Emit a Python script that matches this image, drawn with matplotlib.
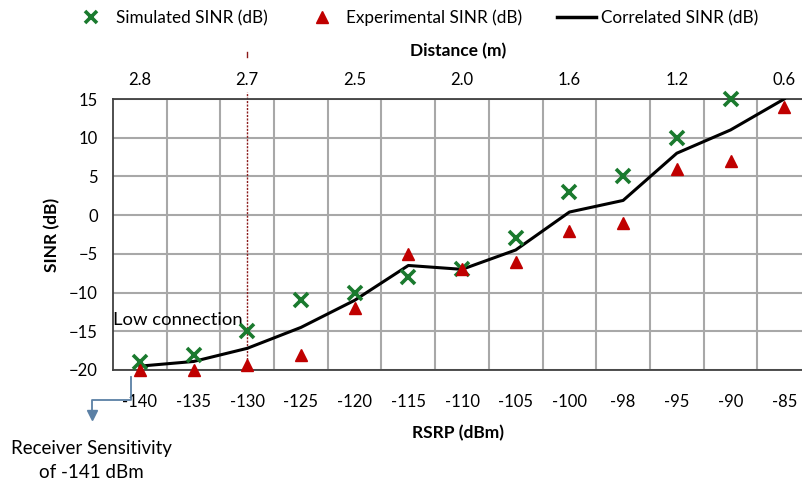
import numpy as np
import matplotlib
matplotlib.use("Agg")
import matplotlib.pyplot as plt
from matplotlib.lines import Line2D

plt.rcParams['font.family'] = ['Lato', 'DejaVu Sans']

# RSRP categories (dBm) and the matching distance labels on the top axis
rsrp = ['-140', '-135', '-130', '-125', '-120', '-115', '-110',
        '-105', '-100', '-98', '-95', '-90', '-85']
distance = ['2.8', '2.7', '2.5', '2.0', '1.6', '1.2', '0.6']

sim_sinr = [-19, -18, -15, -11, -10, -8, -7, -3, 3, 5, 10, 15, np.nan]
exp_sinr = [-20, -20, -19.4, -18, -12, -5, -7, -6, -2, -1, 6, 7, 14]
corr_sinr = [-19.5, -18.9, -17.2, -14.5, -11, -6.5, -7, -4.5, 0.4, 1.9, 8, 11, 15]

W, H = 803, 486
fig = plt.figure(figsize=(W / 100, H / 100), dpi=100)
ax = fig.add_axes([113 / W, 1 - 370 / H, (W - 113) / W, 271 / H])

x = np.arange(len(rsrp))
green = '#1a7a2e'
red = '#c00000'
grid_c = '#a8a8a8'

ax.set_xlim(-0.5, 12.35)
ax.set_ylim(-20, 15)
yt = np.arange(-20, 16, 5)
ax.set_yticks(yt)
ax.set_xticks(x)
ax.set_xticklabels(rsrp)

# gridlines: horizontal at each y tick, vertical between categories
ax.set_xticks(np.arange(0.5, 12, 1), minor=True)
ax.grid(True, which='minor', axis='x', color=grid_c, lw=1.5, zorder=0)
ax.grid(True, which='major', axis='y', color=grid_c, lw=1.5, zorder=0)
ax.grid(False, which='major', axis='x')
ax.set_axisbelow(True)

ax.plot(x, corr_sinr, color='black', lw=2.2, zorder=3, solid_joinstyle='round')
ax.plot(x, sim_sinr, ls='none', marker='x', ms=10, mew=2.6, color=green,
        zorder=4, clip_on=False)
ax.plot(x, exp_sinr, ls='none', marker='^', ms=9, color=red, mec=red,
        zorder=5, clip_on=False)

ax.tick_params(which='both', length=0)
ax.tick_params(axis='x', pad=17, labelsize=12)
ax.tick_params(axis='y', pad=11, labelsize=12)
for s in ['top', 'bottom', 'left']:
    ax.spines[s].set_color('#404040')
    ax.spines[s].set_linewidth(1.3)
ax.spines['right'].set_visible(False)
ax.set_xlabel('RSRP (dBm)', fontsize=12.5, fontweight='bold', labelpad=11)
ax.set_ylabel('SINR (dB)', fontsize=12.5, fontweight='bold', labelpad=6)

# top distance axis
top = ax.twiny()
top.patch.set_visible(False)
top.set_xlim(ax.get_xlim())
top.set_xticks(x[::2])
top.set_xticklabels(distance)
top.tick_params(length=0, pad=8, labelsize=12)
for s in top.spines.values():
    s.set_visible(False)
top.set_xlabel('Distance (m)', fontsize=12.5, fontweight='bold', labelpad=11)

# low connection marker at -130 dBm
ax.axvline(2, ymin=0, ymax=1.025, color='#8b1a1a', lw=1, ls=(0, (1.5, 1)),
           clip_on=False, zorder=2.5)
ax.axvline(2, ymin=1.155, ymax=1.175, color='#8b1a1a', lw=1,
           clip_on=False, zorder=2.5)
ax.text(-0.5, -13.5, 'Low connection', fontsize=13.3, ha='left', va='center')

# receiver sensitivity callout
blue = '#5b80a5'
fig.add_artist(Line2D([131 / W, 131 / W, 92 / W, 92 / W],
                      [1 - 377 / H, 1 - 400 / H, 1 - 400 / H, 1 - 413 / H],
                      color=blue, lw=1.3))
fig.add_artist(Line2D([92 / W], [1 - 415 / H], marker='v', ms=7,
                      color=blue, ls='none'))
fig.text(91 / W, 1 - 448 / H, 'Receiver Sensitivity', ha='center',
         va='center', fontsize=13.5)
fig.text(91 / W, 1 - 472 / H, 'of -141 dBm', ha='center', va='center',
         fontsize=13.5)

handles = [
    Line2D([], [], ls='none', marker='x', ms=9, mew=2.6, color=green),
    Line2D([], [], ls='none', marker='^', ms=8, color=red),
    Line2D([], [], color='black', lw=2.5),
]
fig.legend(handles, ['Simulated SINR (dB)', 'Experimental SINR (dB)',
                     'Correlated SINR (dB)'],
           loc='center', bbox_to_anchor=(415 / W, 1 - 18 / H), ncol=3,
           frameon=False, fontsize=12.3, handlelength=2.3,
           handletextpad=0.3, columnspacing=2.0)

fig.savefig('out.png', dpi=100)
